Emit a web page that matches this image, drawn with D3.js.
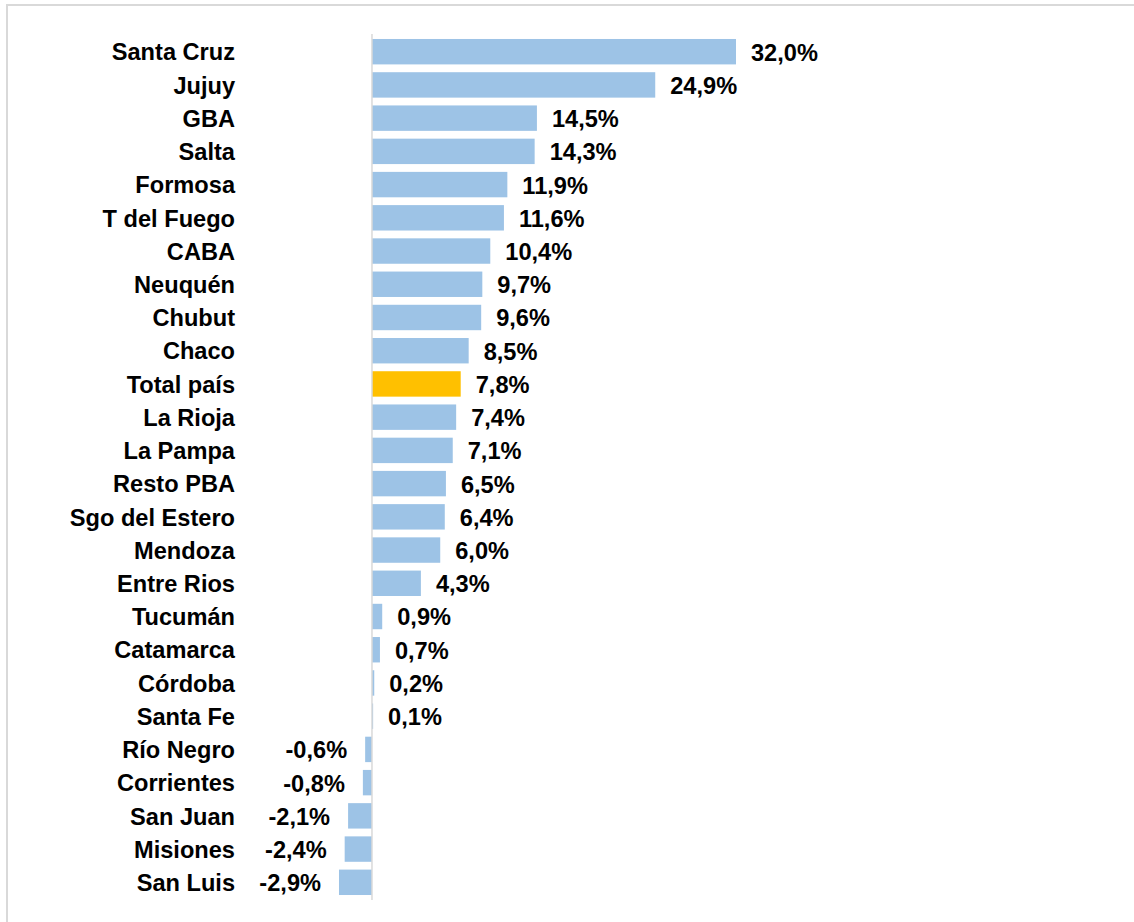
<!DOCTYPE html>
<html>
<head>
<meta charset="utf-8">
<script src="https://cdn.jsdelivr.net/npm/d3@7"></script>
<style>
  body { margin: 0; background: #fff; }
  text { font-family: "Liberation Sans", Arial, sans-serif; font-weight: bold; fill: #000; }
</style>
</head>
<body>
<div id="chart"></div>
<script>
const provinces = ["Santa Cruz", "Jujuy", "GBA", "Salta", "Formosa", "T del Fuego", "CABA",
  "Neuquén", "Chubut", "Chaco", "Total país", "La Rioja", "La Pampa", "Resto PBA",
  "Sgo del Estero", "Mendoza", "Entre Rios", "Tucumán", "Catamarca", "Córdoba", "Santa Fe",
  "Río Negro", "Corrientes", "San Juan", "Misiones", "San Luis"];
const changes = [32.0, 24.9, 14.5, 14.3, 11.9, 11.6, 10.4, 9.7, 9.6, 8.5, 7.8, 7.4, 7.1, 6.5,
  6.4, 6.0, 4.3, 0.9, 0.7, 0.2, 0.1, -0.6, -0.8, -2.1, -2.4, -2.9];
const highlighted = ["Total país"];

const W = 1134, H = 922;
const data = provinces.map((p, i) => ({name: p, value: changes[i]}));

const svg = d3.select("#chart").append("svg")
  .attr("width", W)
  .attr("height", H);

// outer frame
svg.append("rect")
  .attr("x", 7).attr("y", 5)
  .attr("width", W + 20).attr("height", H + 20)
  .attr("fill", "none")
  .attr("stroke", "#d9d9d9")
  .attr("stroke-width", 2);

const x = d3.scaleLinear().domain([-5, 40]).range([315.1, 827]);
const y = d3.scaleBand().domain(provinces).range([34, 900])
  .paddingInner(0.235).paddingOuter(0.15);

const fmt = v => d3.format(".1f")(v).replace(".", ",").replace("−", "-") + "%";

svg.selectAll(".bar")
  .data(data)
  .enter()
  .append("rect")
  .attr("class", "bar")
  .attr("x", d => x(Math.min(0, d.value)))
  .attr("y", d => y(d.name))
  .attr("width", d => Math.abs(x(d.value) - x(0)))
  .attr("height", y.bandwidth())
  .attr("fill", d => highlighted.includes(d.name) ? "#FFC000" : "#9DC3E6");

// zero axis
svg.append("line")
  .attr("x1", x(0)).attr("x2", x(0))
  .attr("y1", 34).attr("y2", 900)
  .attr("stroke", "#d9d9d9")
  .attr("stroke-width", 1.5);

// category labels
svg.selectAll(".cat")
  .data(data)
  .enter()
  .append("text")
  .attr("class", "cat")
  .attr("x", 235)
  .attr("y", d => y(d.name) + y.bandwidth() / 2)
  .attr("dy", "0.37em")
  .attr("text-anchor", "end")
  .style("font-size", "23.6px")
  .text(d => d.name);

// value labels
svg.selectAll(".val")
  .data(data)
  .enter()
  .append("text")
  .attr("class", "val")
  .attr("x", d => d.value >= 0 ? x(d.value) + 15 : x(d.value) - 18)
  .attr("y", d => y(d.name) + y.bandwidth() / 2)
  .attr("dy", "0.38em")
  .attr("text-anchor", d => d.value >= 0 ? "start" : "end")
  .style("font-size", "23.6px")
  .text(d => fmt(d.value));
</script>
</body>
</html>
